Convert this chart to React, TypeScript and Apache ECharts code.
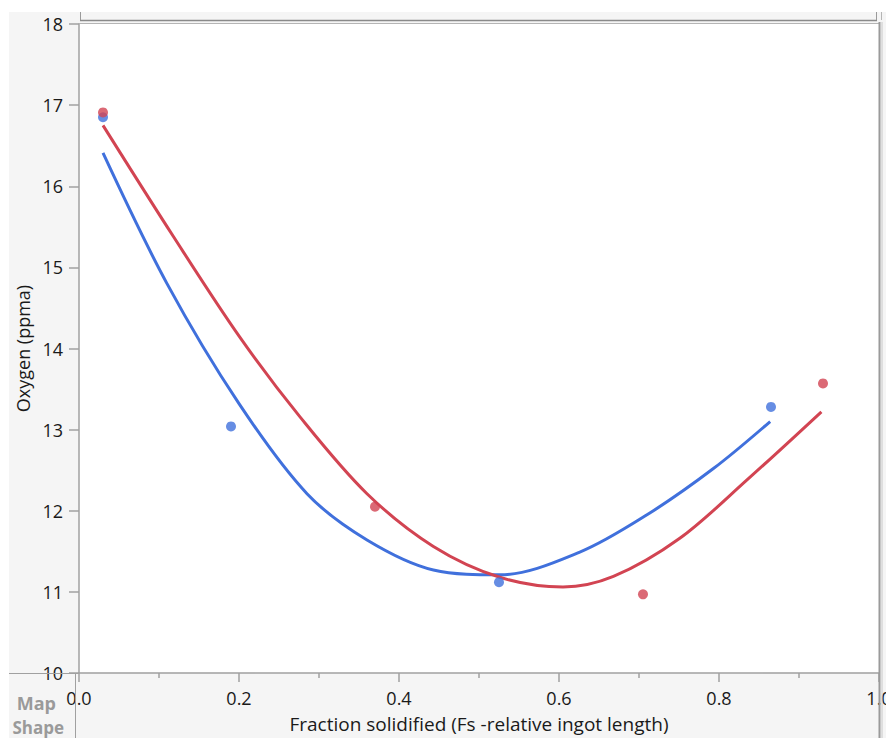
import React, { useEffect, useRef } from "react";
import * as echarts from "echarts";

const xTitle = "Fraction solidified (Fs -relative ingot length)";
const yTitle = "Oxygen (ppma)";

const blueX = [0.03, 0.19, 0.525, 0.865];
const blueY = [16.85, 13.04, 11.12, 13.28];
const redX = [0.03, 0.37, 0.705, 0.93];
const redY = [16.91, 12.05, 10.97, 13.57];

const blueFitX = [0.03, 0.11, 0.2, 0.285, 0.36, 0.443, 0.526, 0.626, 0.71, 0.793, 0.864];
const blueFitY = [16.41, 14.8, 13.32, 12.21, 11.64, 11.27, 11.21, 11.49, 11.95, 12.52, 13.1];

const redFitX = [0.03, 0.118, 0.201, 0.276, 0.36, 0.443, 0.526, 0.605, 0.668, 0.751, 0.835, 0.928];
const redFitY = [16.75, 15.38, 14.14, 13.16, 12.21, 11.56, 11.18, 11.06, 11.19, 11.66, 12.38, 13.22];

const BLUE = "#4070dc";
const RED = "#d24452";
const FONT = "'Open Sans', 'Noto Sans', sans-serif";

export default function App() {
  const ref = useRef<HTMLDivElement>(null);
  useEffect(() => {
    document.body.style.margin = "0";
    const chart = echarts.init(ref.current!, null, { renderer: "svg" });
    const zip = (xs: number[], ys: number[]) => xs.map((x, i) => [x, ys[i]]);
    const line = (x1: number, y1: number, x2: number, y2: number, stroke: string, w = 1) => ({
      type: "line",
      z: 10,
      silent: true,
      shape: { x1, y1, x2, y2 },
      style: { stroke, lineWidth: w },
    });
    chart.setOption({
      animation: false,
      backgroundColor: "#ffffff",
      graphic: [
        { type: "rect", z: -10, shape: { x: 9, y: 12, width: 877, height: 726 }, style: { fill: "#f5f5f5" } },
        { type: "rect", z: -9, shape: { x: 79, y: 23, width: 800, height: 650 }, style: { fill: "#ffffff" } },
        line(80, 20.5, 877, 20.5, "#8a8a8a", 1.5),
        line(79, 23.5, 879, 23.5, "#b5b5b5", 1),
        line(80.5, 12, 80.5, 20, "#9a9a9a", 1),
        line(876.5, 12, 876.5, 20, "#9a9a9a", 1),
        line(881.5, 12, 881.5, 20, "#b5b5b5", 1),
        line(879.5, 22, 879.5, 738, "#9a9a9a", 2),
        line(882, 22, 882, 738, "#c8c8c8", 1),
        line(9, 673.5, 79, 673.5, "#a0a0a0", 1),
        line(75.5, 674, 75.5, 738, "#a0a0a0", 1),
        {
          type: "text",
          z: 10,
          style: { text: "Map", x: 56, y: 703, align: "right", verticalAlign: "middle", font: `bold 18px ${FONT}`, fill: "#9a9a9a" },
        },
        {
          type: "text",
          z: 10,
          style: { text: "Shape", x: 64, y: 727, align: "right", verticalAlign: "middle", font: `bold 17px ${FONT}`, fill: "#9a9a9a" },
        },
      ],
      grid: { left: 79, right: 7, top: 24, bottom: 65, show: false, outerBoundsMode: "none", containLabel: false },
      xAxis: {
        type: "value",
        min: 0,
        max: 1,
        interval: 0.2,
        name: xTitle,
        nameLocation: "middle",
        nameGap: 41,
        nameTextStyle: { fontFamily: FONT, fontSize: 19, color: "#1a1a1a" },
        axisLine: { show: true, lineStyle: { color: "#a0a0a0", width: 1.5 } },
        axisTick: { show: true, length: 9, lineStyle: { color: "#a0a0a0", width: 1.5 } },
        minorTick: { show: true, splitNumber: 2, length: 5, lineStyle: { color: "#a0a0a0", width: 1.5 } },
        splitLine: { show: false },
        axisLabel: {
          margin: 16,
          fontFamily: FONT,
          fontSize: 18,
          color: "#1a1a1a",
          formatter: (v: number) => v.toFixed(1),
        },
      },
      yAxis: {
        type: "value",
        min: 10,
        max: 18,
        interval: 1,
        name: yTitle,
        nameLocation: "middle",
        nameGap: 47,
        nameTextStyle: { fontFamily: FONT, fontSize: 18, color: "#1a1a1a" },
        axisLine: { show: true, lineStyle: { color: "#a0a0a0", width: 1.5 } },
        axisTick: { show: true, length: 10, lineStyle: { color: "#a0a0a0", width: 1.5 } },
        splitLine: { show: false },
        axisLabel: { margin: 16, fontFamily: FONT, fontSize: 18, color: "#1a1a1a" },
      },
      series: [
        {
          type: "line",
          data: zip(blueFitX, blueFitY),
          smooth: 0.33,
          symbol: "none",
          lineStyle: { color: BLUE, width: 3 },
          z: 2,
        },
        {
          type: "line",
          data: zip(redFitX, redFitY),
          smooth: 0.33,
          symbol: "none",
          lineStyle: { color: RED, width: 3 },
          z: 3,
        },
        {
          type: "scatter",
          data: zip(blueX, blueY),
          symbolSize: 10,
          itemStyle: { color: BLUE },
          z: 4,
        },
        {
          type: "scatter",
          data: zip(redX, redY),
          symbolSize: 10,
          itemStyle: { color: RED },
          z: 5,
        },
      ],
    });
    return () => chart.dispose();
  }, []);
  return <div ref={ref} style={{ position: "fixed", left: 0, top: 0, width: 886, height: 738 }} />;
}
